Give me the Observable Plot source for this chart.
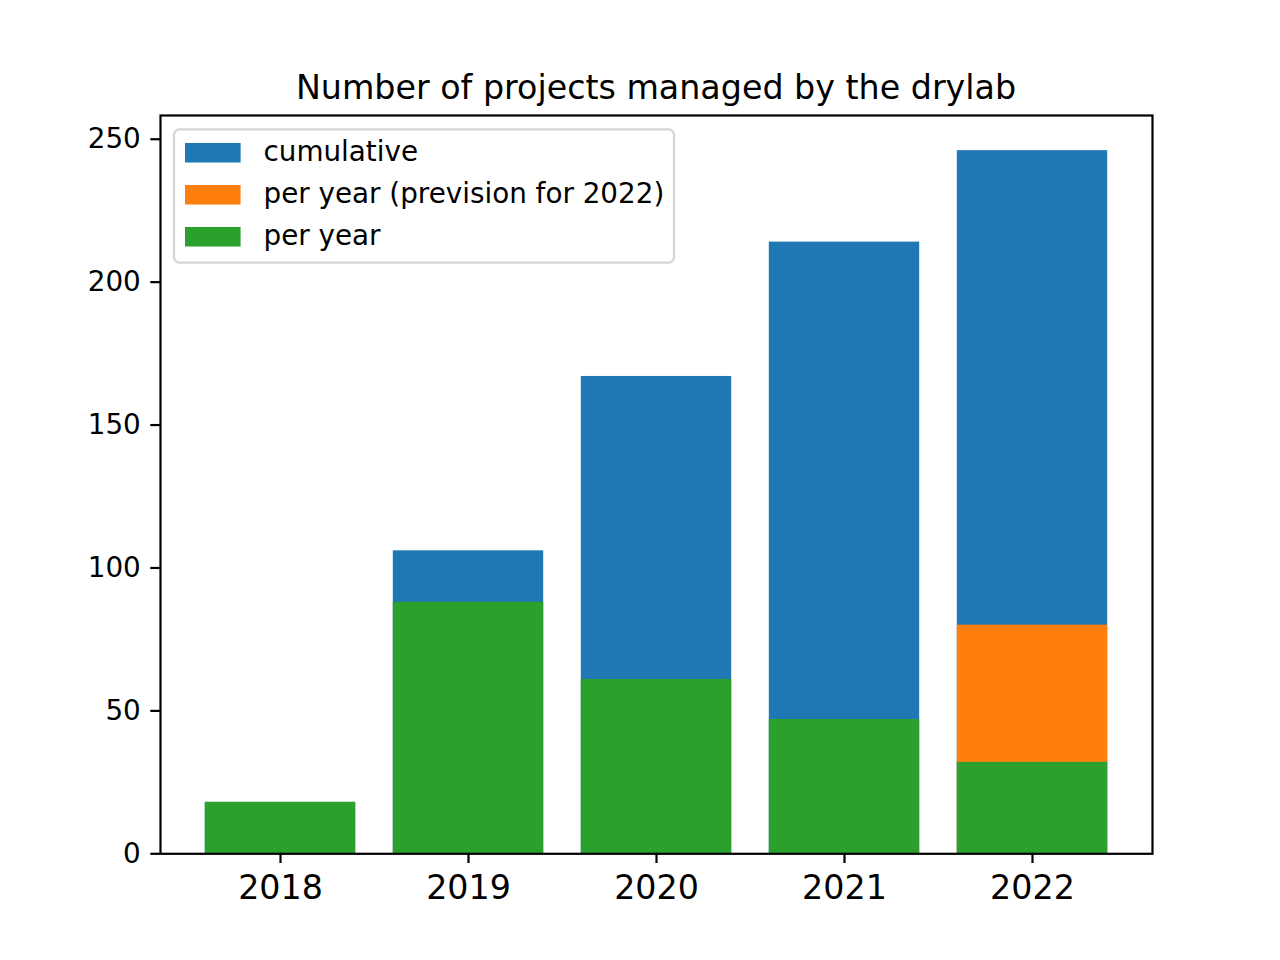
<!DOCTYPE html>
<html><head><meta charset="utf-8">
<script src="https://cdn.jsdelivr.net/npm/d3@7"></script>
<script src="https://cdn.jsdelivr.net/npm/@observablehq/plot@0.6"></script>
<style>
body{margin:0;background:#fff;}
#wrap{position:relative;width:1280px;height:960px;font-family:"DejaVu Sans";color:#000;}
#wrap svg.overlay{position:absolute;left:0;top:0;pointer-events:none;}
</style>
</head><body><div id="wrap"></div>
<script>
const years = ["2018","2019","2020","2021","2022"];
const cumulative = [18,106,167,214,246];
const perYear = [18,88,61,47,32];
const prevision = [null,null,null,null,80];
const yTicks = [0,50,100,150,200,250];
const seriesLabels = ["cumulative","per year (prevision for 2022)","per year"];
const seriesColors = ["#1f77b4","#ff7f0e","#2ca02c"];
const titleText = "Number of projects managed by the drylab";

const rows = years.map((y,i)=>({year:y, cumulative:cumulative[i], perYear:perYear[i], prevision:prevision[i]}));
const prevRows = rows.filter(d=>d.prevision!=null);

const chart = Plot.plot({
  width:1280, height:960,
  marginLeft:160, marginRight:128, marginTop:115, marginBottom:106.7,
  x:{type:"band", domain:years, paddingInner:0.2, paddingOuter:0.2383, round:false, label:null},
  y:{domain:[0,258.3], label:null},
  style:{fontFamily:"DejaVu Sans", background:"white", color:"black", overflow:"visible"},
  marks:[
    Plot.barY(rows,{x:"year", y:"cumulative", fill:seriesColors[0]}),
    Plot.barY(prevRows,{x:"year", y:"prevision", fill:seriesColors[1]}),
    Plot.barY(rows,{x:"year", y:"perYear", fill:seriesColors[2]}),
    Plot.frame({stroke:"black", strokeWidth:2.2}),
    Plot.axisY({ticks:yTicks, tickSize:9.7, tickPadding:10, fontSize:27.8, strokeWidth:2.2, label:null, fill:"black", stroke:"black"}),
    Plot.axisX({tickSize:9.7, tickPadding:12, fontSize:33.3, strokeWidth:2.2, label:null, fill:"black", stroke:"black"})
  ]
});
const wrap = document.getElementById("wrap");
wrap.appendChild(chart);

const ov = d3.select(wrap).append("svg").attr("class","overlay").attr("width",1280).attr("height",960)
  .style("font-family","DejaVu Sans");
ov.append("text").attr("x",656).attr("y",99).attr("text-anchor","middle").attr("font-size",33.3).attr("fill","black").text(titleText);
ov.append("rect").attr("x",174).attr("y",129.3).attr("width",500).attr("height",133.4).attr("rx",5.5)
  .attr("fill","white").attr("fill-opacity",0.8).attr("stroke","#cccccc").attr("stroke-opacity",0.8).attr("stroke-width",2.2);
seriesLabels.forEach((lab,i)=>{
  ov.append("rect").attr("x",185).attr("y",143+i*42).attr("width",55.6).attr("height",19.5).attr("fill",seriesColors[i]);
  ov.append("text").attr("x",263.5).attr("y",161+i*42).attr("font-size",27.8).attr("fill","black").text(lab);
});
</script>
</body></html>
